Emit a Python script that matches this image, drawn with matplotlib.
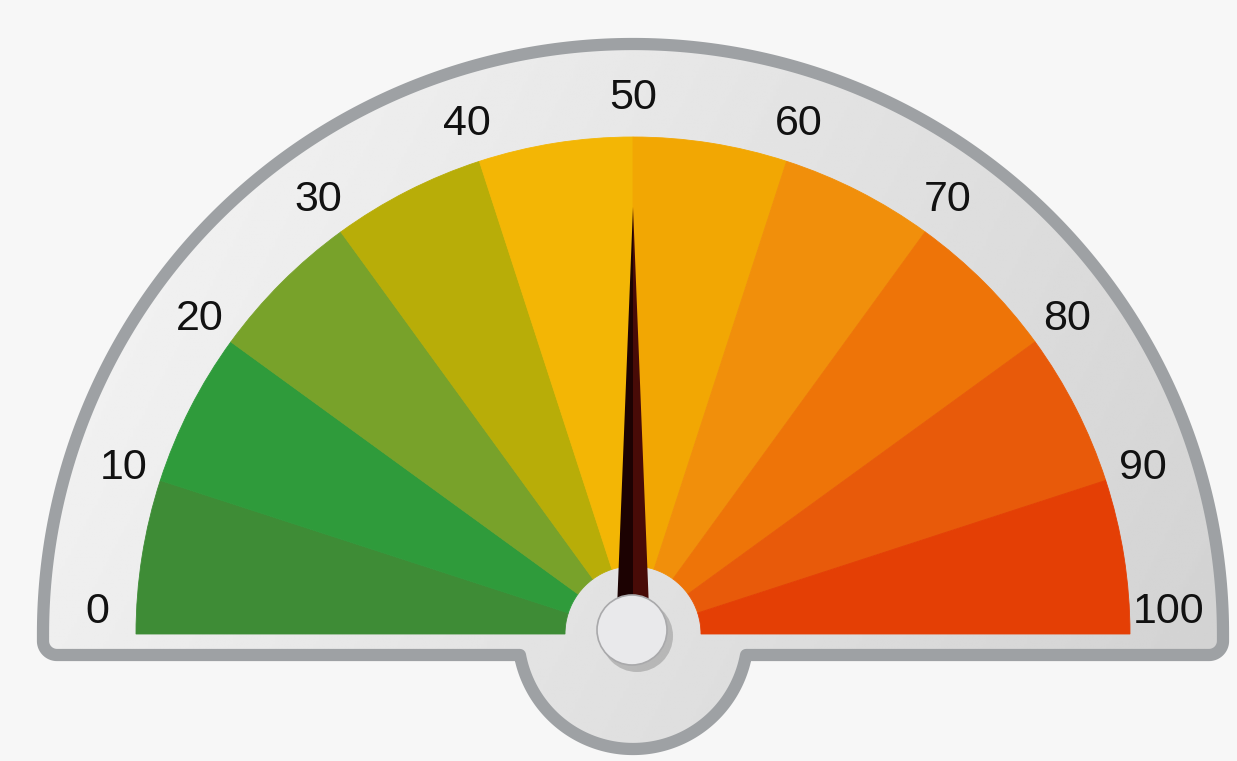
import matplotlib
matplotlib.use('Agg')
import matplotlib.pyplot as plt
import numpy as np
from matplotlib.patches import Wedge, Circle, Polygon

# gauge data
tick_values = [0, 10, 20, 30, 40, 50, 60, 70, 80, 90, 100]
tick_labels = ['0', '10', '20', '30', '40', '50', '60', '70', '80', '90', '100']
band_starts = [0, 10, 20, 30, 40, 50, 60, 70, 80, 90]
band_ends = [10, 20, 30, 40, 50, 60, 70, 80, 90, 100]
band_colors = ['#3e8c36', '#2f9b3b', '#78a22a', '#b8ad08', '#f3b605',
               '#f2a703', '#f18f0b', '#ee7408', '#e85a0a', '#e43f05']
needle_value = 50

W, H = 1237, 761
fig = plt.figure(figsize=(12.37, 7.61), dpi=100)
fig.patch.set_facecolor('#f7f7f7')
ax = fig.add_axes([0, 0, 1, 1])
ax.set_xlim(0, W)
ax.set_ylim(0, H)
ax.axis('off')

cx, cy = 633, 127  # gauge centre


def val2ang(v):
    # 0 -> left (180 deg), 100 -> right (0 deg)
    return 180 - 1.8 * v


# outline of the dial face: big half circle + bump under the hub
R = 590
yb = 106
rb = 115
c = 14
pts = []
th = np.linspace(np.pi, 0, 300)
pts += list(zip(cx + R * np.cos(th), cy + R * np.sin(th)))
corner = np.linspace(0, -np.pi / 2, 20)
pts += list(zip(cx + R - c + c * np.cos(corner), yb + c + c * np.sin(corner)))
a0 = np.arcsin((cy - yb) / rb)
bth = np.linspace(-a0, -np.pi + a0, 150)
pts += list(zip(cx + rb * np.cos(bth), cy + rb * np.sin(bth)))
corner = np.linspace(-np.pi / 2, -np.pi, 20)
pts += list(zip(cx - R + c + c * np.cos(corner), yb + c + c * np.sin(corner)))

face = Polygon(pts, closed=True, facecolor='none', edgecolor='none')
ax.add_patch(face)

# soft grey gradient on the face
gx = np.linspace(0, 1, 400)
gy = np.linspace(0, 1, 200)
GX, GY = np.meshgrid(gx, gy)
light = 0.965 - 0.11 * GX - 0.035 * (1 - GY)
img = ax.imshow(light, cmap='gray', vmin=0, vmax=1, origin='lower',
                extent=[cx - R, cx + R, 0, cy + R], interpolation='bilinear', zorder=1)
img.set_clip_path(face)

rim = Polygon(pts, closed=True, facecolor='none', edgecolor='#9ea1a4',
              lw=8.8, joinstyle='round', zorder=2)
ax.add_patch(rim)

# coloured bands
r_out, r_in = 497, 68
for s, e, col in zip(band_starts, band_ends, band_colors):
    ax.add_patch(Wedge((cx, cy), r_out, val2ang(e), val2ang(s), width=r_out - r_in,
                       facecolor=col, edgecolor=col, lw=0.6, zorder=3))

# tick labels
r_lab = 536
for v, lab in zip(tick_values, tick_labels):
    a = np.radians(val2ang(v))
    x = cx + r_lab * np.cos(a)
    y = max(cy + r_lab * np.sin(a), cy + 22)
    ax.text(x, y, lab, ha='center', va='center', fontsize=31, color='#111111',
            family=['Liberation Sans Narrow', 'Liberation Sans'], zorder=4)

# needle
a = np.radians(val2ang(needle_value))
L, hw = 427, 17
u = np.array([np.cos(a), np.sin(a)])
n = np.array([-np.sin(a), np.cos(a)])
ctr = np.array([cx, cy])
tip = ctr + L * u
ax.add_patch(Polygon([ctr + hw * n, tip, ctr], closed=True, facecolor='#1c0202',
                     edgecolor='none', zorder=5))
ax.add_patch(Polygon([ctr - hw * n, tip, ctr], closed=True, facecolor='#480b07',
                     edgecolor='none', zorder=5))

# hub knob with shadow
ax.add_patch(Circle((cx + 4, cy - 2), 36, facecolor='black', alpha=0.18, edgecolor='none', zorder=6))
ax.add_patch(Circle((cx - 1, cy + 4), 35, facecolor='#e9e9eb', edgecolor='#a9a9ab', lw=1.2, zorder=7))

fig.savefig('out.png', dpi=100, facecolor=fig.get_facecolor())
